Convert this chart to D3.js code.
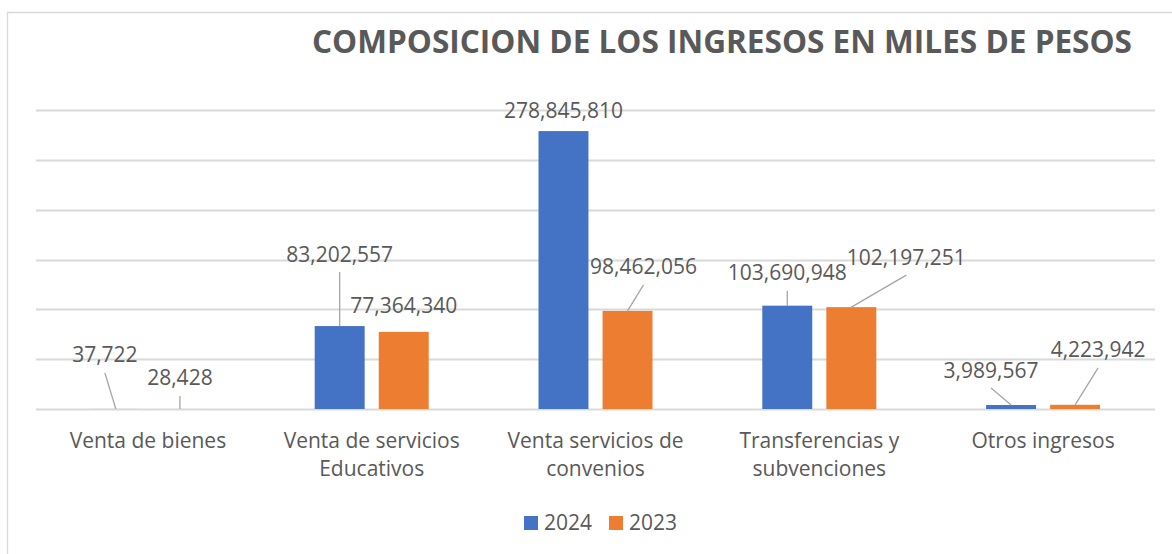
<!DOCTYPE html>
<html>
<head>
<meta charset="utf-8">
<script src="https://cdn.jsdelivr.net/npm/d3@7"></script>
<style>
  body { margin: 0; background: #fff; }
  svg { display: block; }
</style>
</head>
<body>
<div id="chart"></div>
<script>
const categories = [
  ["Venta de bienes"],
  ["Venta de servicios", "Educativos"],
  ["Venta servicios de", "convenios"],
  ["Transferencias y", "subvenciones"],
  ["Otros ingresos"]
];
const seriesNames = ["2024", "2023"];
const values2024 = [37722, 83202557, 278845810, 103690948, 3989567];
const values2023 = [28428, 77364340, 98462056, 102197251, 4223942];
const gridTicks = [0, 50e6, 100e6, 150e6, 200e6, 250e6, 300e6];

// label offsets from the bar top (Excel moved them by hand)
const labelShift2024 = [[-11, -54], [0, -72], [0, -21], [0, -33], [-20, -35]];
const labelShift2023 = [[0, -31], [0, -26], [16, -44], [55, -50], [23, -55]];

const width = 1172, height = 554;
const colors = {"2024": "#4472c4", "2023": "#ed7d31"};
const textColor = "#595959";
const font = "'Open Sans', 'Liberation Sans', sans-serif";

let svg = d3.select("#chart")
    .append("svg")
    .attr("width", width)
    .attr("height", height);

// chart border (only top and left fall inside the picture)
svg.append("path")
    .attr("d", "M7.5," + height + "V12.5H" + width)
    .attr("fill", "none")
    .attr("stroke", "#d9d9d9")
    .attr("stroke-width", 1.3);

svg.append("text")
    .attr("x", 722)
    .attr("y", 53)
    .attr("text-anchor", "middle")
    .attr("font-family", font)
    .attr("font-weight", "bold")
    .attr("font-size", 32)
    .attr("fill", textColor)
    .attr("textLength", 820)
    .attr("lengthAdjust", "spacingAndGlyphs")
    .text("COMPOSICION DE LOS INGRESOS EN MILES DE PESOS");

let y = d3.scaleLinear()
    .domain([0, 300e6])
    .range([409, 110]);

let x0 = d3.scaleBand()
    .domain(d3.range(categories.length))
    .range([36, 1155])
    .paddingInner(0.4906)
    .paddingOuter(0.2453);

let x1 = d3.scaleBand()
    .domain(seriesNames)
    .range([0, x0.bandwidth()])
    .paddingInner(0.22);

// gridlines
svg.append("g")
    .selectAll("line")
    .data(gridTicks)
    .enter()
    .append("line")
    .attr("x1", 36)
    .attr("x2", 1155)
    .attr("y1", d => Math.round(y(d)) + 0.5)
    .attr("y2", d => Math.round(y(d)) + 0.5)
    .attr("stroke", "#d9d9d9")
    .attr("stroke-width", 2);

const rows = [];
categories.forEach((c, i) => {
    rows.push({i: i, s: "2024", v: values2024[i], shift: labelShift2024[i]});
    rows.push({i: i, s: "2023", v: values2023[i], shift: labelShift2023[i]});
});

svg.append("g")
    .selectAll("rect")
    .data(rows)
    .enter()
    .append("rect")
    .attr("x", d => x0(d.i) + x1(d.s))
    .attr("width", x1.bandwidth())
    .attr("y", d => y(d.v))
    .attr("height", d => y(0) - y(d.v))
    .attr("fill", d => colors[d.s]);

// data labels with leader lines
let labels = svg.append("g");
rows.forEach(d => {
    let bx = x0(d.i) + x1(d.s) + x1.bandwidth() / 2;
    let by = y(d.v);
    let lx = bx + d.shift[0];
    let ly = by + d.shift[1];
    if (by - (ly + 18) > 10) {
        labels.append("line")
            .attr("x1", lx)
            .attr("y1", ly + 18)
            .attr("x2", bx)
            .attr("y2", by)
            .attr("stroke", "#a6a6a6")
            .attr("stroke-width", 1.3);
    }
    labels.append("text")
        .attr("x", lx)
        .attr("y", ly + 7.5)
        .attr("text-anchor", "middle")
        .attr("font-family", font)
        .attr("font-size", 21)
        .attr("fill", textColor)
        .text(d3.format(",")(d.v));
});

// category labels
let cat = svg.append("g")
    .selectAll("text")
    .data(categories)
    .enter()
    .append("text")
    .attr("text-anchor", "middle")
    .attr("font-family", font)
    .attr("font-size", 21)
    .attr("fill", textColor);

cat.selectAll("tspan")
    .data((d, i) => d.map(t => ({t: t, i: i})))
    .enter()
    .append("tspan")
    .attr("x", d => x0(d.i) + x0.bandwidth() / 2)
    .attr("y", (d, j) => 448 + j * 28)
    .text(d => d.t);

// legend
let legend = svg.append("g")
    .selectAll("g")
    .data(seriesNames)
    .enter()
    .append("g")
    .attr("transform", (d, i) => "translate(" + (524 + i * 85) + ",516)");

legend.append("rect")
    .attr("width", 14)
    .attr("height", 14)
    .attr("fill", d => colors[d]);

legend.append("text")
    .attr("x", 20)
    .attr("y", 14)
    .attr("font-family", font)
    .attr("font-size", 21)
    .attr("fill", textColor)
    .text(d => d);
</script>
</body>
</html>
